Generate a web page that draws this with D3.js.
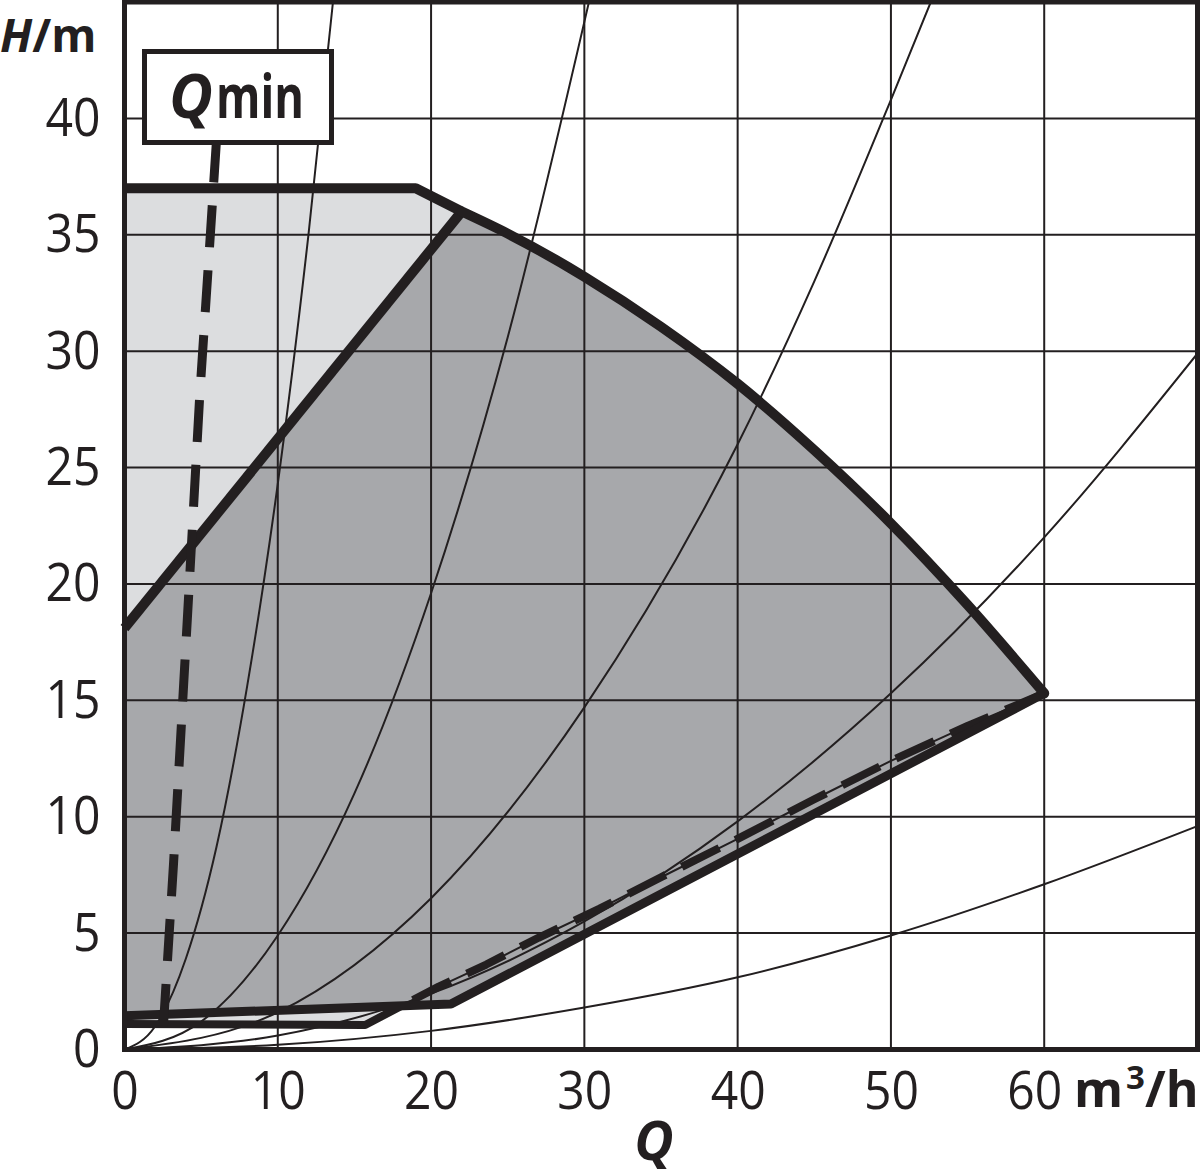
<!DOCTYPE html>
<html><head><meta charset="utf-8">
<script src="https://cdn.jsdelivr.net/npm/d3@7"></script>
<style>
html,body{margin:0;padding:0;background:#fff;}
svg{display:block;}
text{font-family:"Open Sans","Noto Sans",sans-serif;fill:#231f20;}
</style></head>
<body>
<svg id="c" width="1200" height="1175"></svg>
<script>
// ---- data ----
const qTicks = [0, 10, 20, 30, 40, 50, 60];
const hTicks = [0, 5, 10, 15, 20, 25, 30, 35, 40];

// flat top of max curve
const maxTopQ = [0, 19, 22];
const maxTopH = [37, 37, 36];
// falling part of max curve
const maxCurveQ = [22, 25, 30, 35, 40, 45, 50, 55, 60];
const maxCurveH = [36, 35.05, 33.2, 31.05, 28.6, 25.75, 22.6, 19.1, 15.3];
// diagonal (limit of light zone)
const diagQ = [0, 22];
const diagH = [18.1, 36];
// lower solid min line
const minQ = [0, 21.3, 60];
const minH = [1.45, 1.95, 15.3];
// second (lower) min line
const min2Q = [0, 15.7, 18];
const min2H = [1.1, 1.05, 1.85];
// dashed min line
const minDashQ = [60, 55, 50, 45, 40, 35, 31, 27, 23.6, 20.5, 18];
const minDashH = [15.3, 13.9, 12.4, 10.75, 9.05, 7.4, 6.05, 4.8, 3.65, 2.7, 1.85];
// Qmin line
const qminQ = [6.0, 5.6, 4.9, 4.1, 3.2, 2.5];
const qminH = [39.05, 35, 28, 18.5, 8, 0.6];
// system curves
const sysQ = [
  [0, 2, 4, 6, 8, 10, 12, 13.6],
  [0, 5, 10, 15, 20, 25, 30.3],
  [0, 10, 20, 30, 40, 45, 50, 52.6],
  [0, 10, 20, 30, 40, 50, 60, 70],
  [0, 10, 20, 30, 40, 50, 60, 70]
];
const sysH = [
  [0, 1.0, 3.9, 8.7, 15.6, 24.3, 35, 45],
  [0, 1.2, 4.9, 11, 19.6, 30.6, 45],
  [0, 1.6, 6.5, 14.7, 26, 33, 40.8, 45],
  [0, 0.6, 2.4, 5.5, 9.8, 15.3, 22, 29.9],
  [0, 0.2, 0.8, 1.8, 3.1, 4.9, 7.1, 9.6]
];

// ---- drawing ----
const INK = "#231f20", LIGHT = "#dcdddf", DARK = "#a7a8ab";
const svg = d3.select("#c");
const x = d3.scaleLinear().domain([0, 70]).range([124.5, 1197.5]);
const y = d3.scaleLinear().domain([0, 45]).range([1049.5, 2]);
const pts = (qs, hs) => qs.map((q, i) => [x(q), y(hs[i])]);
const lin = d3.line();
const mono = d3.line().curve(d3.curveMonotoneX);

svg.append("defs").append("clipPath").attr("id", "plot")
  .append("rect").attr("x", x(0)).attr("y", y(45)).attr("width", x(70) - x(0)).attr("height", y(0) - y(45));

const curvePts = pts(maxCurveQ, maxCurveH);
const curveStr = mono(curvePts);
const curveTail = curveStr.substring(curveStr.search(/[CL]/));

// light zone
const lightTop = pts(maxTopQ, maxTopH);
svg.append("path")
  .attr("d", lin([[x(0), y(diagH[0])], ...lightTop]) + "Z")
  .attr("fill", LIGHT);
// dark zone
const d0 = pts(diagQ, diagH);
const lower = pts(minQ, minH).reverse();
svg.append("path")
  .attr("d", "M" + d0[0] + "L" + d0[1] + curveTail + "L" + lower.join("L") + "Z")
  .attr("fill", DARK);
// light slit between the two min lines
svg.append("path")
  .attr("d", lin([...pts(min2Q, min2H), [x(0), y(minH[0])]]) + "Z")
  .attr("fill", LIGHT);

// grid
const g = svg.append("g").attr("stroke", INK).attr("stroke-width", 2);
g.selectAll(".vx").data(qTicks.filter(d => d > 0)).join("line")
  .attr("x1", d => x(d)).attr("x2", d => x(d)).attr("y1", y(0)).attr("y2", y(45));
g.selectAll(".hy").data(hTicks.filter(d => d > 0)).join("line")
  .attr("y1", d => y(d)).attr("y2", d => y(d)).attr("x1", x(0)).attr("x2", x(70));

// system curves
const sc = svg.append("g").attr("clip-path", "url(#plot)");
sysQ.forEach((qs, i) => {
  sc.append("path").attr("d", mono(pts(qs, sysH[i])))
    .attr("fill", "none").attr("stroke", INK).attr("stroke-width", 2);
});

// thick lines
const thick = svg.append("g").attr("fill", "none").attr("stroke", INK)
  .attr("stroke-linejoin", "round").attr("stroke-linecap", "round");
thick.append("path").attr("d", lin(pts(min2Q, min2H))).attr("stroke-width", 8).attr("stroke-linecap", "butt");
thick.append("path").attr("d", lin(pts(minDashQ, minDashH))).attr("stroke-width", 2);
thick.append("path").attr("d", lin(pts(minDashQ, minDashH))).attr("stroke-width", 8)
  .attr("stroke-dasharray", "42,18").attr("stroke-linecap", "butt");
thick.append("path").attr("d", lin(pts(minQ, minH))).attr("stroke-width", 9).attr("stroke-linecap", "butt");
thick.append("path").attr("d", lin(d0)).attr("stroke-width", 10).attr("stroke-linecap", "butt");
thick.append("path").attr("d", lin(lightTop)).attr("stroke-width", 10).attr("stroke-linecap", "butt");
thick.append("path").attr("d", curveStr).attr("stroke-width", 10);

// Qmin dashed line
svg.append("path").attr("d", lin(pts(qminQ, qminH)))
  .attr("fill", "none").attr("stroke", INK).attr("stroke-width", 9)
  .attr("stroke-dasharray", "42,23");

// frame
svg.append("rect").attr("x", x(0)).attr("y", y(45)).attr("width", x(70) - x(0)).attr("height", y(0) - y(45))
  .attr("fill", "none").attr("stroke", INK).attr("stroke-width", 5);

// Qmin box
svg.append("rect").attr("x", 144.5).attr("y", 51.5).attr("width", 187).attr("height", 91)
  .attr("fill", "#fff").attr("stroke", INK).attr("stroke-width", 5);
svg.append("text").attr("x", 169).attr("y", 118)
  .attr("font-size", 60).attr("font-weight", "bold").attr("font-style", "italic")
  .attr("textLength", 44).attr("lengthAdjust", "spacingAndGlyphs").text("Q");
svg.append("text").attr("x", 216).attr("y", 118)
  .attr("font-size", 60).attr("font-weight", "bold")
  .attr("textLength", 88).attr("lengthAdjust", "spacingAndGlyphs").text("min");

// axes (tick labels only)
const ax = svg.append("g").attr("transform", `translate(0,${y(0)})`)
  .call(d3.axisBottom(x).tickValues(qTicks).tickSize(0).tickPadding(22));
const ay = svg.append("g").attr("transform", `translate(${x(0)},0)`)
  .call(d3.axisLeft(y).tickValues(hTicks).tickSize(0).tickPadding(24));
[ax, ay].forEach(a => {
  a.select(".domain").remove();
  a.selectAll("text").attr("font-size", 53).attr("font-family", '"Open Sans","Noto Sans",sans-serif')
    .attr("fill", INK)
    .attr("textLength", d => String(d).length * 27.5).attr("lengthAdjust", "spacingAndGlyphs");
});
ax.selectAll(".tick").filter(d => d === 60).select("text").attr("x", -10);

// unit labels
const hu = svg.append("text").attr("x", 0).attr("y", 52).attr("font-size", 46).attr("font-weight", "bold");
hu.append("tspan").attr("font-style", "italic").text("H");
hu.append("tspan").text("/m");

const qu = svg.append("text").attr("x", 1074).attr("y", 1107).attr("font-size", 50).attr("font-weight", "bold");
qu.append("tspan").text("m");
qu.append("tspan").attr("font-size", 33).attr("dy", -18).attr("dx", 3).text("3");
qu.append("tspan").attr("dy", 18).text("/h");

svg.append("text").attr("x", 654).attr("y", 1160).attr("text-anchor", "middle")
  .attr("font-size", 54).attr("font-weight", "bold").attr("font-style", "italic").text("Q");
</script>
</body></html>
